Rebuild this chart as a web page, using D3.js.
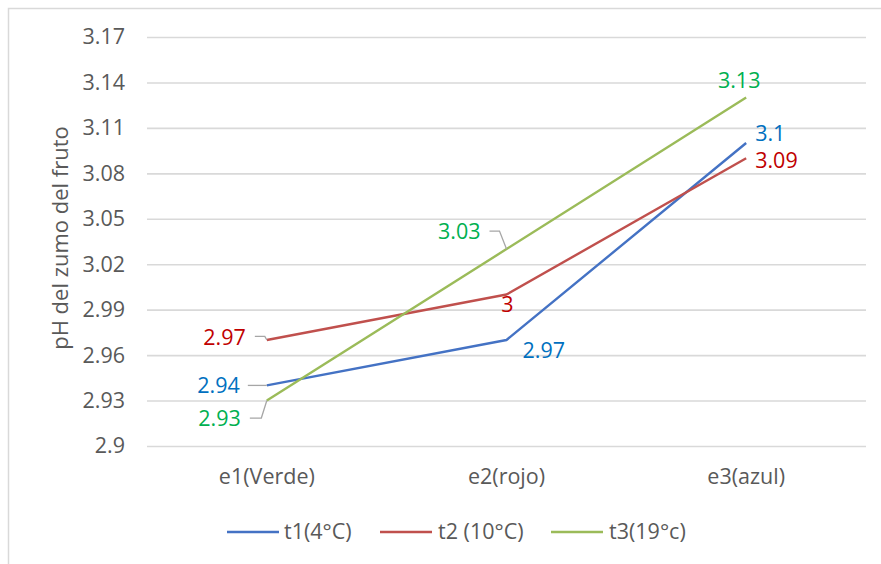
<!DOCTYPE html>
<html>
<head>
<meta charset="utf-8">
<script src="https://cdn.jsdelivr.net/npm/d3@7"></script>
<style>
  html, body { margin: 0; padding: 0; background: #fff; }
  svg { display: block; font-family: "Open Sans", sans-serif; }
</style>
</head>
<body>
<svg id="chart" width="881" height="564"></svg>
<script>
// Fruit ripeness stages
const categories = ["e1(Verde)", "e2(rojo)", "e3(azul)"];

// Storage temperature series
const seriesNames = ["t1(4°C)", "t2 (10°C)", "t3(19°c)"];
const t1Values = [2.94, 2.97, 3.10];
const t2Values = [2.97, 3.00, 3.09];
const t3Values = [2.93, 3.03, 3.13];

// Y axis ticks
const yTicks = [2.90, 2.93, 2.96, 2.99, 3.02, 3.05, 3.08, 3.11, 3.14, 3.17];
const yTickLabels = ["2.9", "2.93", "2.96", "2.99", "3.02", "3.05", "3.08", "3.11", "3.14", "3.17"];

const yTitle = "pH del zumo del fruto";

const lineColors = ["#4472C4", "#C0504D", "#9BBB59"];
const labelColors = ["#0070C0", "#C00000", "#00B050"];
const textGray = "#595959";
const gridGray = "#D9D9D9";
const leaderGray = "#A6A6A6";
const fontSize = 21.5;

const svg = d3.select("#chart");

// Chart area border (top and left edges)
svg.append("path")
  .attr("d", "M8.5,564 V8.5 H881")
  .attr("fill", "none")
  .attr("stroke", gridGray)
  .attr("stroke-width", 1.5);

const plot = { left: 147, right: 866, top: 37, bottom: 446 };

const x = d3.scaleBand()
  .domain(categories)
  .range([plot.left, plot.right])
  .padding(0);

const y = d3.scaleLinear()
  .domain([yTicks[0], yTicks[yTicks.length - 1]])
  .range([plot.bottom, plot.top]);

const cx = c => x(c) + x.bandwidth() / 2;

// Gridlines
const grid = svg.append("g")
  .attr("transform", `translate(${plot.left},0)`)
  .call(d3.axisLeft(y).tickValues(yTicks).tickSize(-(plot.right - plot.left)).tickFormat(""));
grid.select(".domain").remove();
grid.selectAll(".tick line")
  .attr("stroke", gridGray)
  .attr("stroke-width", 1.6);

// Y tick labels
const yAxis = svg.append("g")
  .attr("transform", `translate(${plot.left - 22},0)`)
  .call(d3.axisLeft(y).tickValues(yTicks).tickSize(0).tickPadding(0)
    .tickFormat((d, i) => yTickLabels[i]));
yAxis.select(".domain").remove();
yAxis.selectAll("text")
  .attr("fill", textGray)
  .attr("font-size", fontSize)
  .attr("font-family", "Open Sans, sans-serif");

// X category labels
const xAxis = svg.append("g")
  .attr("transform", `translate(0,${plot.bottom})`)
  .call(d3.axisBottom(x).tickSize(0).tickPadding(0));
xAxis.select(".domain").remove();
xAxis.selectAll("text")
  .attr("fill", textGray)
  .attr("font-size", fontSize)
  .attr("font-family", "Open Sans, sans-serif")
  .attr("dy", null)
  .attr("y", 32)
  .attr("dominant-baseline", "middle");

// Y axis title
svg.append("text")
  .attr("transform", "translate(62,238) rotate(-90)")
  .attr("text-anchor", "middle")
  .attr("dominant-baseline", "middle")
  .attr("fill", textGray)
  .attr("font-size", 22)
  .text(yTitle);

// Lines
const allSeries = [t1Values, t2Values, t3Values];
const line = d3.line()
  .x((d, i) => cx(categories[i]))
  .y(d => y(d));

allSeries.forEach((vals, s) => {
  svg.append("path")
    .datum(vals)
    .attr("fill", "none")
    .attr("stroke", lineColors[s])
    .attr("stroke-width", 2.4)
    .attr("stroke-linejoin", "round")
    .attr("d", line);
});

// Data label placement: offset from point, anchor, optional leader line
const labelPlacement = [
  [ // t1
    { dx: -27, dy: 2, anchor: "end", leader: [[-19, 0], [0, 0]] },
    { dx: 16, dy: 12, anchor: "start" },
    { dx: 9, dy: -8, anchor: "start" }
  ],
  [ // t2
    { dx: -21, dy: -0.5, anchor: "end", leader: [[-12, -3.5], [-2, -3.5], [0, 0]] },
    { dx: 1, dy: 12, anchor: "middle" },
    { dx: 9, dy: 4, anchor: "start" }
  ],
  [ // t3
    { dx: -26, dy: 20, anchor: "end", leader: [[-17, 17.5], [-5.5, 17.5], [0, 0]] },
    { dx: -26, dy: -16, anchor: "end", leader: [[-17, -18], [-7, -18], [0, 0]] },
    { dx: -7, dy: -15.5, anchor: "middle" }
  ]
];

allSeries.forEach((vals, s) => {
  vals.forEach((v, i) => {
    const px = cx(categories[i]);
    const py = y(v);
    const p = labelPlacement[s][i];
    if (p.leader) {
      svg.append("path")
        .attr("d", d3.line()(p.leader.map(([a, b]) => [px + a, py + b])))
        .attr("fill", "none")
        .attr("stroke", leaderGray)
        .attr("stroke-width", 1.3);
    }
    svg.append("text")
      .attr("x", px + p.dx)
      .attr("y", py + p.dy)
      .attr("text-anchor", p.anchor)
      .attr("dominant-baseline", "middle")
      .attr("fill", labelColors[s])
      .attr("font-size", fontSize)
      .text(d3.format("")(v));
  });
});

// Legend
const legendItems = [
  { x: 227, textX: 284 },
  { x: 380, textX: 438 },
  { x: 551, textX: 609 }
];
const legendY = 532;
const legend = svg.append("g");
seriesNames.forEach((name, s) => {
  const it = legendItems[s];
  legend.append("line")
    .attr("x1", it.x).attr("x2", it.x + 52)
    .attr("y1", legendY).attr("y2", legendY)
    .attr("stroke", lineColors[s])
    .attr("stroke-width", 2.4);
  legend.append("text")
    .attr("x", it.textX)
    .attr("y", legendY + 1)
    .attr("dominant-baseline", "middle")
    .attr("fill", textGray)
    .attr("font-size", fontSize)
    .text(name);
});
</script>
</body>
</html>
